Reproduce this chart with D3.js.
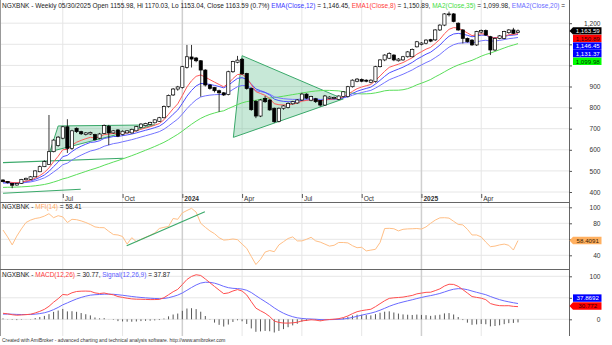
<!DOCTYPE html>
<html><head><meta charset="utf-8">
<script src="https://cdn.jsdelivr.net/npm/d3@7"></script>
<style>
html,body{margin:0;padding:0;background:#fff;}
svg{display:block;font-family:"Liberation Sans",Arial,sans-serif;}
</style></head><body>
<svg id="c" width="612" height="345"></svg>
<script>
// ---------- DATA (weekly bars, first bar week of 2023-04-07) ----------
const firstWeek = "2023-04-07";
const opens = [457,450,441,433,441,458,460,472,496,520,530,591,620,655,709,607,702,686,672,675,672,655,678,712,680,694,672,680,680,690,706,714,720,728,735,752,805,860,888,895,990,1040,1035,1022,978,907,895,880,870,862,970,1015,1029,962,891,830,760,844,836,797,735,797,800,818,822,836,864,835,842,833,812,843,843,839,852,852,899,925,933,930,920,923,994,1026,1034,1049,1022,1026,1041,1041,1088,1100,1105,1122,1121,1168,1191,1240,1244,1200,1168,1128,1120,1097,1158,1165,1136,1073,1128,1128,1155,1168,1155.98];
const highs = [460,452,443,443,462,468,476,503,525,550,765,650,665,713,745,695,706,690,684,686,676,680,720,718,694,698,692,693,700,713,726,728,733,745,756,810,862,893,903,998,1097,1097,1040,1025,982,912,898,885,874,975,1022,1045,1035,965,895,835,840,855,840,800,800,812,825,832,840,870,868,856,846,836,860,854,852,858,878,903,934,940,938,934,934,998,1030,1053,1062,1053,1035,1045,1068,1080,1116,1110,1124,1126,1172,1195,1248,1255,1248,1204,1172,1132,1124,1164,1170,1170,1140,1132,1144,1164,1172,1178,1170.03];
const lows = [446,440,418,430,438,455,457,470,494,518,528,588,615,650,585,600,680,670,668,670,644,650,675,622,676,660,668,677,677,687,703,711,716,725,732,749,800,855,880,890,985,990,1015,852,900,885,872,780,855,858,965,1010,955,885,785,750,755,822,785,728,730,790,796,814,818,832,840,830,822,805,808,840,840,836,848,848,895,920,920,920,915,918,990,1020,1030,1020,1018,1022,1037,1038,1085,1095,1100,1110,1116,1163,1186,1232,1204,1164,1104,1108,1093,1092,1152,1140,1049,1068,1124,1124,1150,1148,1153.04];
const closes = [449,444,432,440,460,465,472,500,520,544,591,646,660,709,607,690,686,676,680,682,648,675,715,680,690,665,688,690,697,710,722,725,730,742,752,805,858,888,898,994,1041,1030,1022,978,907,891,880,870,860,970,1018,1025,960,890,790,760,836,828,789,733,797,808,820,828,836,864,845,852,828,812,855,850,848,855,875,899,930,935,925,925,930,994,1026,1049,1057,1026,1030,1041,1064,1076,1112,1106,1120,1115,1168,1191,1244,1244,1208,1168,1128,1112,1097,1160,1165,1144,1073,1128,1140,1160,1168,1152,1163.59];
const mfi = [71.6,63,53,64,73,81,84,86,87,89,92,87,89.5,88,81,85,84.5,83,81,78.5,75.5,74.6,74.5,70,66,65.4,63.5,54,62,57,60,62.5,65,68,73.5,75,76,86,85,93,96,98.7,94,80,75,70.5,67,62,59,59.5,60.4,59.5,54,48.7,38.5,28.5,35,44,46,44.5,53,57,61,63,58,58,60,62.5,58,56.5,54,51.5,52.5,56,56,55.5,52,49.5,50,45.5,46.5,47.5,56,73.5,73.7,73.2,70.5,72.5,73,73.2,73.5,72.8,75.5,80,84,86.8,87,86.5,82.5,78.6,78,72.5,65.4,65.4,63,56.5,50.8,51.5,53,54,52.5,46.6,58.4091];
// last values as printed in the chart legends
const lastEma12 = 1146.45, lastEma8 = 1150.89, lastMa35 = 1099.98, lastEma20 = 1131.37;
const lastMacd = 30.772, lastSignal = 37.8692;
// indicator start values read at the left edge of the picture
const seedEma8 = 450, seedEma12 = 447, seedEma20 = 442, seedEma26 = 433, seedSignal = 12, ma35Prior = 421;
const priceTicks = [400,500,600,700,800,900,1000,1100,1200];
const mfiTicks = [100,80,60,40];
const macdGrid = [100,50,0];
const macdTickLabels = [100,50,0];
const dateTickLabels = ["Jul","Oct","2024","Apr","Jul","Oct","2025","Apr"];
const dateTickDates = ["2023-07-07","2023-10-06","2024-01-05","2024-04-05","2024-07-05","2024-10-04","2025-01-03","2025-04-04"];
// drawn annotations, in (bar index, value)
const flagTri = [[10.2,591],[12.0,713],[33.0,718]];
const pennantTri = [[52.0,1046],[50.1,659],[74.0,841]];
const priceTrendLines = [[[0,539],[26.2,560]],[[0,394],[16.9,413]]];
const mfiTrend = [[26.9,52],[43.9,94.5]];

// ---------- INDICATORS ----------
function ema(arr, n, seed){ const k=2/(n+1); const out=[]; let e=seed; arr.forEach((v,i)=>{ if(i>0) e=e+k*(v-e); out.push(e); }); return out; }
const ema8 = ema(closes,8,seedEma8), ema12 = ema(closes,12,seedEma12), ema20 = ema(closes,20,seedEma20);
const ma35 = closes.map((c,i)=>{ let s=0; for(let j=Math.max(0,i-34);j<=i;j++) s+=closes[j]; s += Math.max(0,34-i)*ma35Prior; return s/35; });
const ema26 = ema(closes,26,seedEma26);
const macd = closes.map((c,i)=>ema12[i]-ema26[i]);
const signal = ema(macd,9,seedSignal);
const hist = macd.map((m,i)=>m-signal[i]);

// ---------- SCALES ----------
const svg = d3.select("#c");
const N = closes.length, R = 569;
const x = d3.scaleLinear().domain([0,N-1]).range([3,518]);
const yP = d3.scaleLinear().domain([400,1200]).range([192,23.2]);
const yM = d3.scaleLinear().domain([40,100]).range([255.3,207.3]);
const yD = d3.scaleLinear().domain([0,100]).range([319.3,276.3]);
const week = 7*24*3600*1000, t0 = new Date(firstWeek).getTime();
const dateIdx = dateTickDates.map(d=>Math.round((new Date(d).getTime()-t0)/week));

// ---------- VALUE LABEL POSITIONS ----------
const priceLabels = [[closes[N-1],"#000","#fff",true],[lastEma8,"#ff0000","#300",false],[lastEma12,"#0000ff","#fff",false],[lastEma20,"#0000ff","#fff",false],[lastMa35,"#00ff00","#030",false]];
let prevY=-1e9; const priceLabelY = priceLabels.map(([v])=>{ const y=Math.max(yP(v),prevY+7.6); prevY=y; return y; });
const mfiLabelY = yM(mfi[N-1]);
const macdLabelY = yD(lastMacd), sigLabelY = Math.min(yD(lastSignal), macdLabelY-8);
const visible = (ys, y)=>ys.every(l=>Math.abs(l-y)>6.5);

// ---------- GRID ----------
const grid = svg.append("g");
priceTicks.forEach(v=>grid.append("line").attr("x1",1).attr("x2",R).attr("y1",yP(v)).attr("y2",yP(v)).attr("stroke","#e6e6e6"));
mfiTicks.forEach(v=>grid.append("line").attr("x1",1).attr("x2",R).attr("y1",yM(v)).attr("y2",yM(v)).attr("stroke","#e6e6e6"));
macdGrid.forEach(v=>grid.append("line").attr("x1",1).attr("x2",R).attr("y1",yD(v)).attr("y2",yD(v)).attr("stroke","#e6e6e6"));
dateIdx.forEach((d,j)=>{ const yr=/^\d{4}$/.test(dateTickLabels[j]);
  grid.append("line").attr("x1",x(d)).attr("x2",x(d)).attr("y1",0).attr("y2",336).attr("stroke",yr?"#cfcfcf":"#e6e6e6").attr("stroke-width",yr?1.5:1); });

// ---------- ANNOTATIONS (price) ----------
const pl = d3.line().x(d=>x(d[0])).y(d=>yP(d[1]));
[flagTri,pennantTri].forEach(t=>svg.append("path").attr("d",pl(t)+"Z").attr("fill","rgba(80,185,130,0.32)").attr("stroke","#3aa96a").attr("stroke-width",1));
priceTrendLines.forEach(l=>svg.append("path").attr("d",pl(l)).attr("stroke","#3aa96a").attr("stroke-width",1.1).attr("fill","none"));

// ---------- INDICATOR LINES (price) ----------
const lineP = d3.line().x((d,i)=>x(i)).y(d=>yP(d));
[[ma35,"#5ade5a"],[ema20,"#7373ff"],[ema12,"#4f4fff"],[ema8,"#ff5a5a"]].forEach(([arr,col])=>
  svg.append("path").attr("d",lineP(arr)).attr("fill","none").attr("stroke",col).attr("stroke-width",1));

// ---------- CANDLES ----------
const cg = svg.append("g");
closes.forEach((c,i)=>{
  const o=opens[i], up=c>=o, cx=x(i);
  cg.append("line").attr("x1",cx).attr("x2",cx).attr("y1",yP(highs[i])).attr("y2",yP(lows[i])).attr("stroke","#000").attr("stroke-width",0.8);
  const top=yP(Math.max(o,c)), bot=yP(Math.min(o,c));
  cg.append("rect").attr("x",cx-1.6).attr("width",3.2).attr("y",top).attr("height",Math.max(0.8,bot-top))
    .attr("fill",up?"#fff":"#000").attr("stroke","#000").attr("stroke-width",0.7);
});

// ---------- MFI ----------
svg.append("path").attr("d",d3.line().x((d,i)=>x(i)).y(d=>yM(d))(mfi)).attr("fill","none").attr("stroke","#ffbf86").attr("stroke-width",1);
svg.append("path").attr("d",d3.line().x(d=>x(d[0])).y(d=>yM(d[1]))(mfiTrend)).attr("stroke","#3aa96a").attr("stroke-width",1.2);

// ---------- MACD ----------
hist.forEach((h,i)=>svg.append("line").attr("x1",x(i)).attr("x2",x(i)).attr("y1",yD(0)).attr("y2",yD(h)).attr("stroke","#444").attr("stroke-width",0.9));
svg.append("path").attr("d",d3.line().x((d,i)=>x(i)).y(d=>yD(d))(signal)).attr("fill","none").attr("stroke","#6a6aff").attr("stroke-width",1);
svg.append("path").attr("d",d3.line().x((d,i)=>x(i)).y(d=>yD(d))(macd)).attr("fill","none").attr("stroke","#ff4e4e").attr("stroke-width",1);

// ---------- FRAME ----------
const fr = svg.append("g").attr("stroke","#666");
fr.append("line").attr("x1",0.5).attr("x2",0.5).attr("y1",0).attr("y2",336).attr("stroke","#999");
fr.append("line").attr("x1",R+0.5).attr("x2",R+0.5).attr("y1",0).attr("y2",336);
[202,269].forEach(y=>fr.append("line").attr("x1",0).attr("x2",R).attr("y1",y+0.5).attr("y2",y+0.5));

// ---------- AXES ----------
function styleAxis(g, labelYs, sc){ g.select(".domain").remove(); g.selectAll(".tick line").attr("stroke","#555");
  g.selectAll("text").attr("x",31.5).attr("text-anchor","end").attr("font-size",6.6).attr("fill","#333").attr("font-family","Liberation Sans, Arial, sans-serif");
  g.selectAll(".tick").filter(d=>!visible(labelYs, sc(d))).select("text").remove(); }
svg.append("g").attr("transform",`translate(${R},0)`).call(d3.axisRight(yP).tickValues(priceTicks).tickSize(3).tickFormat(d3.format(","))).call(g=>styleAxis(g,priceLabelY,yP));
svg.append("g").attr("transform",`translate(${R},0)`).call(d3.axisRight(yM).tickValues(mfiTicks).tickSize(3)).call(g=>styleAxis(g,[mfiLabelY],yM));
svg.append("g").attr("transform",`translate(${R},0)`).call(d3.axisRight(yD).tickValues(macdTickLabels).tickSize(3)).call(g=>styleAxis(g,[macdLabelY,sigLabelY],yD));
const xa = svg.append("g").attr("transform","translate(0,194)").call(d3.axisBottom(x).tickValues(dateIdx).tickSize(4).tickFormat((d,j)=>dateTickLabels[j]));
xa.select(".domain").remove(); xa.selectAll(".tick line").attr("stroke","#555");
xa.selectAll("text").attr("x",1.5).attr("y",2).attr("text-anchor","start").attr("font-size",6.6).attr("fill","#333")
  .attr("font-weight",(d,j)=>/^\d{4}$/.test(dateTickLabels[j])?"bold":"normal").attr("font-family","Liberation Sans, Arial, sans-serif");

// ---------- VALUE LABELS ----------
function valueLabel(y, txt, bg, fg, arrow){
  const h=7.4, x0=573, x1=601.5, g=svg.append("g");
  if(arrow) g.append("path").attr("d",`M${R+0.5},${y} L${x0},${y-h/2} L${x1},${y-h/2} L${x1},${y+h/2} L${x0},${y+h/2} Z`).attr("fill",bg);
  else g.append("rect").attr("x",x0).attr("y",y-h/2).attr("width",x1-x0).attr("height",h).attr("fill",bg);
  g.append("text").attr("x",(x0+x1)/2+0.5).attr("y",y+2.3).attr("text-anchor","middle").attr("font-size",6.2).attr("fill",fg).text(txt);
}
const fmt = d3.format(",.2f"), fr6 = d3.format(".6~r");
priceLabels.forEach(([v,bg,fg,ar],k)=>valueLabel(priceLabelY[k],fmt(v),bg,fg,ar));
valueLabel(mfiLabelY, fr6(mfi[N-1]), "#ffb060","#3a2000",true);
valueLabel(sigLabelY, fr6(lastSignal), "#0000ff","#fff",false);
valueLabel(macdLabelY, fr6(lastMacd), "#ff0000","#300",true);

// ---------- TITLES ----------
function title(y, parts, fs){ const t=svg.append("text").attr("x",2).attr("y",y).attr("font-size",fs);
  parts.forEach(([s,c])=>t.append("tspan").attr("fill",c).text(s)); }
title(7.5,[["NGXBNK - Weekly 05/30/2025 Open 1155.98, Hi 1170.03, Lo 1153.04, Close 1163.59 (0.7%) ","#222"],
  ["EMA(Close,12)","#3c3cff"],[" = "+fmt(lastEma12)+", ","#222"],["EMA1(Close,8)","#ff3c3c"],[" = "+fmt(lastEma8)+", ","#222"],
  ["MA2(Close,35)","#44dd44"],[" = "+fmt(lastMa35)+", ","#222"],["EMA2(Close,20)","#6a6aff"],[" = ","#222"]],6.5);
title(209,[["NGXBNK - ","#222"],["MFI(14)","#ffa860"],[" = "+mfi[N-1].toFixed(2),"#222"]],6.5);
title(276.5,[["NGXBNK - ","#222"],["MACD(12,26)","#ff3c3c"],[" = "+lastMacd.toFixed(2)+", ","#222"],["Signal(12,26,9)","#5a5aff"],[" = "+lastSignal.toFixed(2),"#222"]],6.5);
svg.append("text").attr("x",2).attr("y",342).attr("font-size",4.9).attr("fill","#333")
  .text("Created with AmiBroker - advanced charting and technical analysis software. http://www.amibroker.com");
</script></body></html>
